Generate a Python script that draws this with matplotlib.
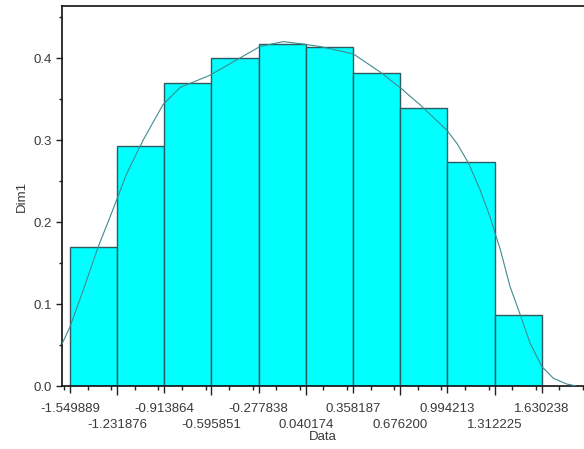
import matplotlib.pyplot as plt
from matplotlib.ticker import MultipleLocator, FormatStrFormatter

plt.rcParams['font.family'] = ['Liberation Sans', 'DejaVu Sans']

# bin edges and relative frequencies of the histogram
edges = [-1.549889, -1.231876, -0.913864, -0.595851, -0.277838,
         0.040174, 0.358187, 0.676200, 0.994213, 1.312225, 1.630238]
edge_labels = ["-1.549889", "-1.231876", "-0.913864", "-0.595851", "-0.277838",
               "0.040174", "0.358187", "0.676200", "0.994213", "1.312225", "1.630238"]
heights = [0.170, 0.293, 0.369, 0.400, 0.417, 0.413, 0.382, 0.339, 0.273, 0.087]

# smoothed density curve
curve_x = [-1.604, -1.550, -1.460, -1.359, -1.280, -1.235, -1.167, -1.056,
           -0.923, -0.808, -0.606, -0.404, -0.269, -0.112, 0.023, 0.136,
           0.360, 0.540, 0.675, 0.810, 0.990, 1.058, 1.136, 1.215, 1.282,
           1.316, 1.350, 1.417, 1.485, 1.552, 1.631, 1.709, 1.799, 1.855]
curve_y = [0.051, 0.072, 0.117, 0.170, 0.206, 0.227, 0.259, 0.300,
           0.343, 0.364, 0.379, 0.400, 0.414, 0.420, 0.417, 0.414,
           0.405, 0.383, 0.364, 0.343, 0.312, 0.296, 0.272, 0.239, 0.206,
           0.186, 0.167, 0.121, 0.087, 0.052, 0.0236, 0.0094, 0.0024, 0.0004]

txt = '#3A3A3A'
fig = plt.figure(figsize=(5.84, 4.49), dpi=100)
ax = fig.add_axes([0.106, 0.1403, 0.894, 0.8463])

lefts = edges[:-1]
widths = [edges[i + 1] - edges[i] for i in range(len(heights))]
ax.bar(lefts, heights, width=widths, align='edge', color='#00FFFF',
       edgecolor='#2F5A5F', linewidth=1.0, zorder=2)
ax.plot(curve_x, curve_y, color='#3C8C8F', linewidth=0.8, zorder=3)

ax.set_xlim(-1.604, 1.915)
ax.set_ylim(0, 0.4634)

# first row of edge labels on the main axis, second row on a secondary axis
ax.set_xticks(edges[0::2])
ax.set_xticklabels(edge_labels[0::2])
ax.xaxis.set_minor_locator(MultipleLocator((edges[1] - edges[0]) / 2))
ax.yaxis.set_major_locator(MultipleLocator(0.1))
ax.yaxis.set_minor_locator(MultipleLocator(0.05))
ax.yaxis.set_major_formatter(FormatStrFormatter('%.1f'))

ax.tick_params(axis='x', which='major', length=5, width=1, color='#222222',
               labelsize=9.5, labelcolor=txt, pad=7.2)
ax.tick_params(axis='x', which='minor', length=2.9, width=1, color='#222222')
ax.tick_params(axis='y', which='major', length=4.3, width=1, color='#222222',
               labelsize=9.5, labelcolor=txt, pad=3)
ax.tick_params(axis='y', which='minor', length=2.2, width=1, color='#222222')

sec = ax.secondary_xaxis('bottom')
sec.set_xticks(edges[1::2])
sec.set_xticklabels(edge_labels[1::2])
sec.tick_params(axis='x', which='major', length=6.5, width=1, color='#222222',
                labelsize=9.5, labelcolor=txt, pad=17.2)
sec.tick_params(axis='x', which='minor', length=0)
sec.spines['bottom'].set_visible(False)

ax.set_xlabel("Data", fontsize=9.5, color=txt, labelpad=11.5)
ax.set_ylabel("Dim1", fontsize=9.5, color=txt, labelpad=4)

ax.spines['right'].set_visible(False)
for s in ['left', 'bottom', 'top']:
    ax.spines[s].set_linewidth(1.2)
    ax.spines[s].set_color('#111111')

fig.savefig("out.png", dpi=100)
